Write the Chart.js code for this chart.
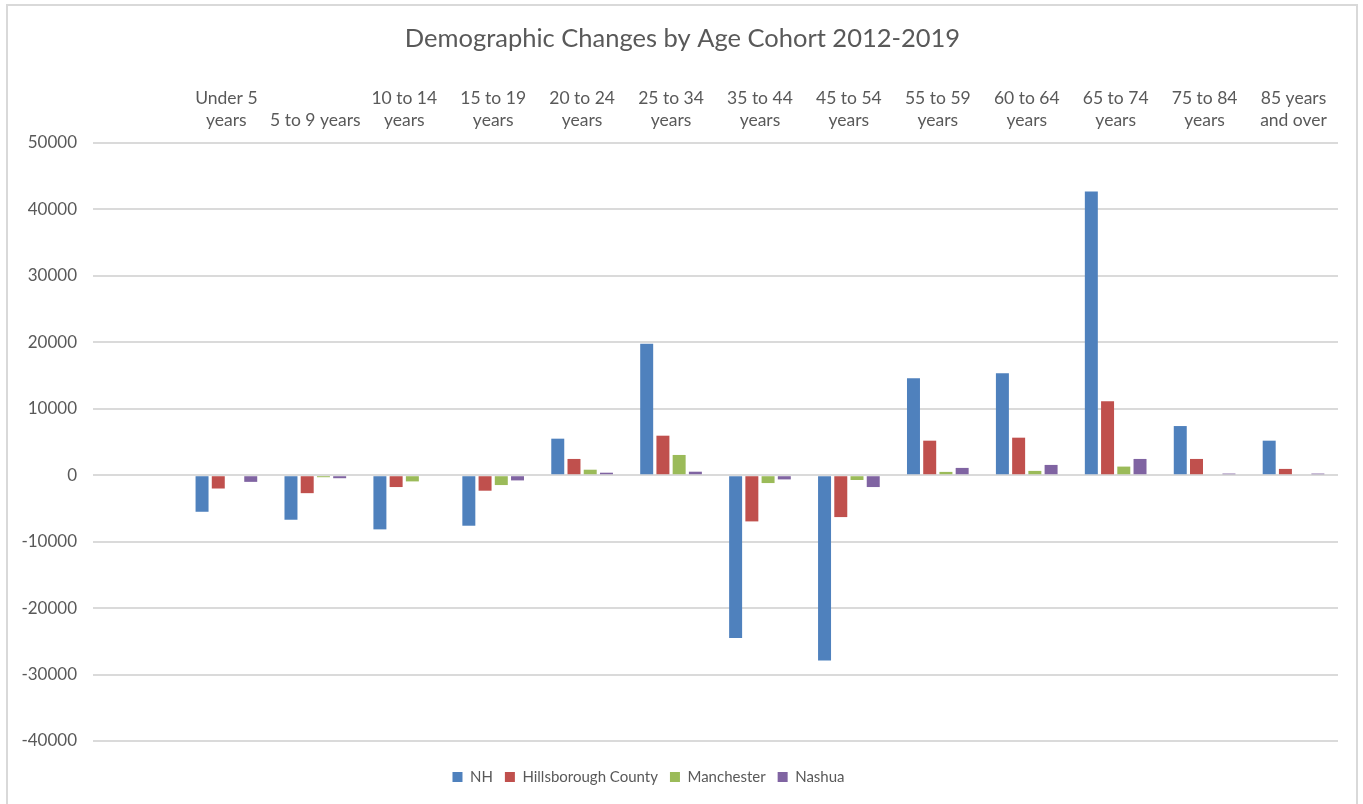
<!DOCTYPE html>
<html>
<head>
<meta charset="utf-8">
<script src="https://cdn.jsdelivr.net/npm/chart.js@4/dist/chart.umd.min.js"></script>
<style>
  html, body { margin: 0; padding: 0; background: #ffffff; }
  #wrap { position: relative; width: 1363px; height: 804px; overflow: hidden; }
  #frame { position: absolute; left: 6px; top: 4px; width: 1352px; height: 840px; border: 2px solid #d9d9d9; box-sizing: border-box; pointer-events: none; }
  canvas { position: absolute; left: 0; top: 0; }
</style>
</head>
<body>
<div id="wrap">
  <canvas id="c" width="1363" height="804"></canvas>
  <div id="frame"></div>
</div>
<script>
// ---- data ----
const categories = [
  '',
  ['Under 5', 'years'],
  '5 to 9 years',
  ['10 to 14', 'years'],
  ['15 to 19', 'years'],
  ['20 to 24', 'years'],
  ['25 to 34', 'years'],
  ['35 to 44', 'years'],
  ['45 to 54', 'years'],
  ['55 to 59', 'years'],
  ['60 to 64', 'years'],
  ['65 to 74', 'years'],
  ['75 to 84', 'years'],
  ['85 years', 'and over']
];
const seriesNames = ['NH', 'Hillsborough County', 'Manchester', 'Nashua'];
const nh           = [null, -5500, -6700, -8150, -7600, 5500, 19800, -24500, -27900, 14600, 15350, 42700, 7400, 5200];
const hillsborough = [null, -2000, -2700, -1780, -2330, 2450, 5950, -6950, -6300, 5200, 5650, 11150, 2450, 950];
const manchester   = [null, 0, -300, -930, -1480, 830, 3050, -1180, -720, 500, 650, 1300, 0, 150];
const nashua       = [null, -1000, -450, 0, -780, 380, 530, -630, -1780, 1100, 1550, 2450, 250, 250];
const seriesColors = ['#4f81bd', '#c0504d', '#9bbb59', '#8064a2'];
const yMin = -40000, yMax = 50000, yStep = 10000;
const chartTitle = 'Demographic Changes by Age Cohort 2012-2019';

Chart.defaults.font.family = 'Lato, "Open Sans", sans-serif';
Chart.defaults.color = '#595959';

// recentre the title and legend boxes horizontally as in the original layout
const boxShift = {
  id: 'boxShift',
  afterLayout(chart) {
    const shift = (box, center) => {
      if (!box) return;
      const dx = center - (box.left + box.right) / 2;
      box.left += dx; box.right += dx;
    };
    shift(chart.titleBlock, 682.5);
    shift(chart.legend, 648.5);
  }
};

const seriesData = [nh, hillsborough, manchester, nashua];
new Chart(document.getElementById('c'), {
  type: 'bar',
  data: {
    labels: categories,
    datasets: seriesNames.map((name, i) => ({
      label: name,
      data: seriesData[i],
      backgroundColor: seriesColors[i],
      borderWidth: 0,
      categoryPercentage: 0.73,
      barPercentage: 0.8
    }))
  },
  options: {
    responsive: false,
    animation: false,
    layout: { padding: { left: 0, right: 25, top: 0, bottom: 9.5 } },
    plugins: {
      title: {
        display: true,
        text: chartTitle,
        color: '#595959',
        font: { size: 25.5, weight: 'normal', lineHeight: 1.2 },
        padding: { top: 23, bottom: 0 }
      },
      legend: {
        position: 'bottom',
        title: { display: true, text: '', font: { size: 1, lineHeight: 1 }, padding: { top: 15.5, bottom: 0 } },
        labels: { boxWidth: 10, boxHeight: 10, padding: 12, font: { size: 15 }, color: '#595959' }
      },
      tooltip: { enabled: false }
    },
    scales: {
      x: {
        position: 'top',
        grid: { display: false, drawTicks: false },
        border: { display: false },
        ticks: { font: { size: 17.5, lineHeight: 1.257 }, padding: 12, maxRotation: 0, autoSkip: false },
        afterFit(scale) { scale.height = 143 - (23 + 25.5 * 1.2); }
      },
      y: {
        min: yMin, max: yMax,
        grid: { color: '#dadada', lineWidth: 2, drawTicks: false },
        border: { display: false },
        ticks: { stepSize: yStep, font: { size: 17 }, padding: 16, callback: v => String(v) },
        afterFit(scale) { scale.width = 93; }
      }
    }
  },
  plugins: [boxShift]
});
</script>
</body>
</html>
